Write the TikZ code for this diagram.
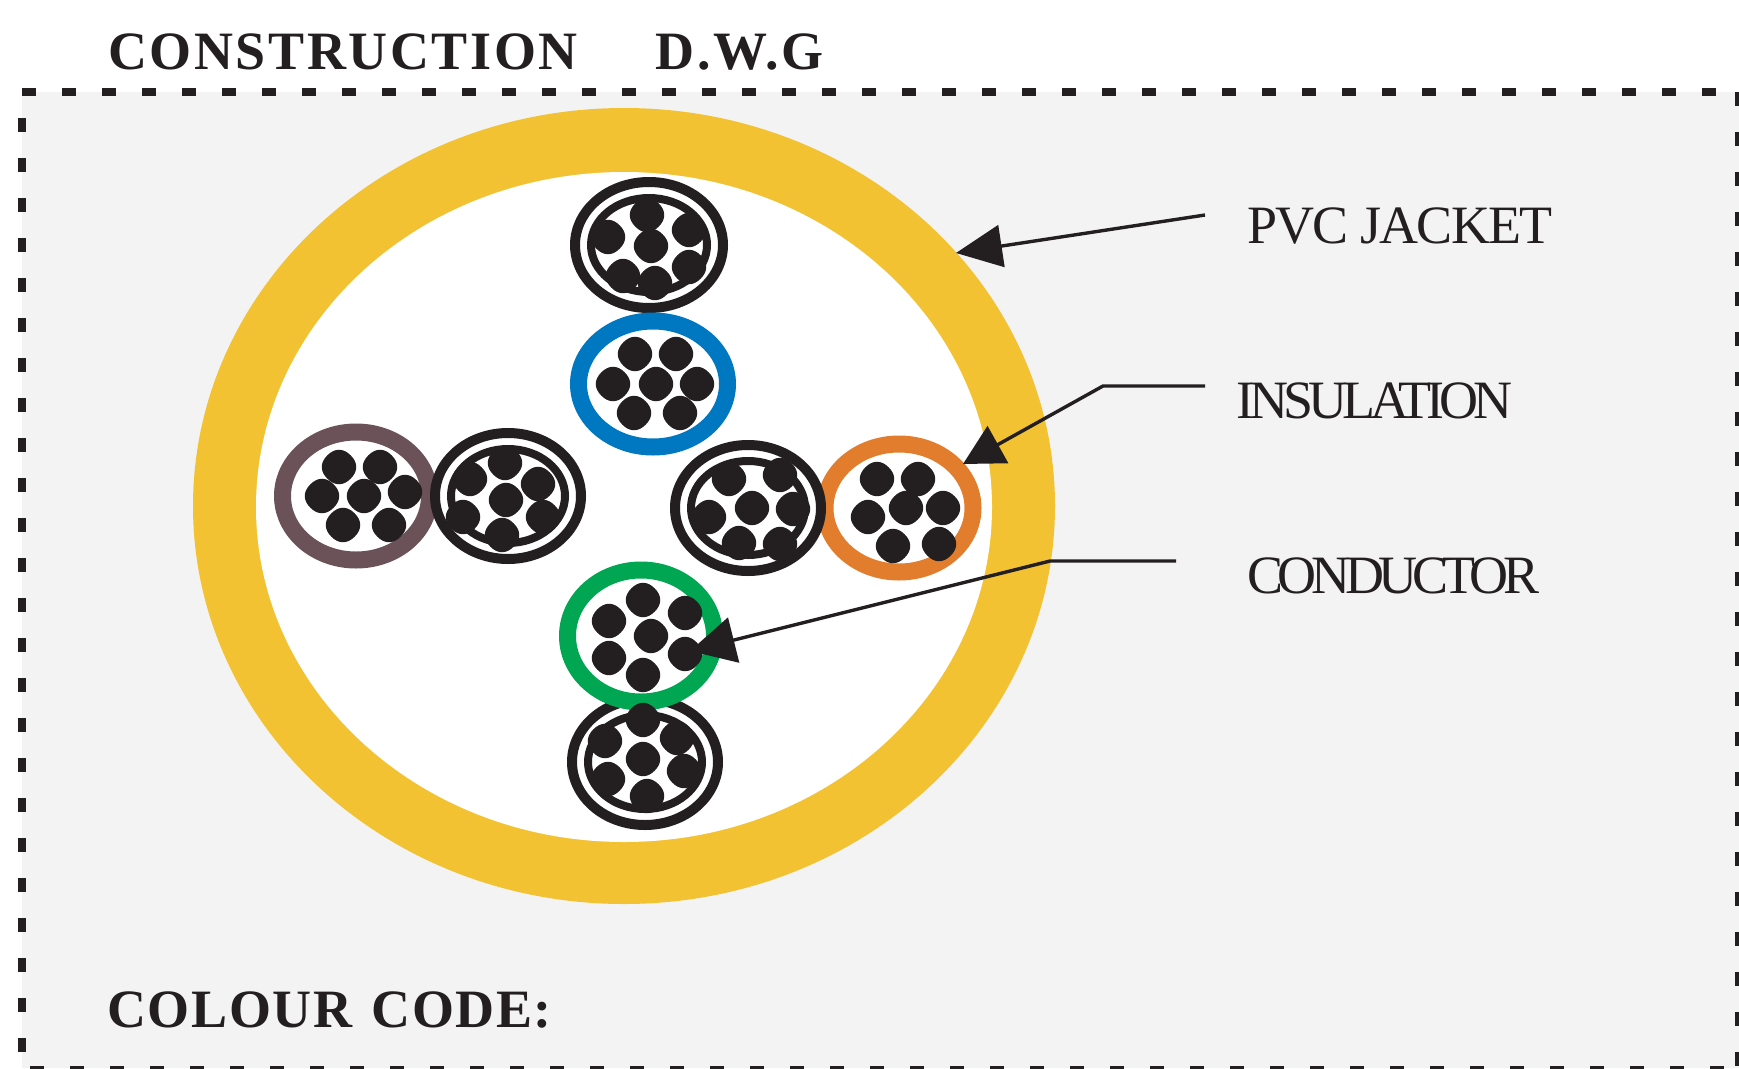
\documentclass[tikz,border=0pt]{standalone}
\usepackage{fontspec}
\usetikzlibrary{arrows.meta}
\setmainfont{Liberation Serif}
\newfontfamily\headfont{Liberation Serif}[LetterSpace=4.8]
\newfontfamily\codefont{Liberation Serif}[LetterSpace=3]
\newfontfamily\jacketfont{Liberation Serif}[LetterSpace=-3.3]
\newfontfamily\insulfont{Liberation Serif}[LetterSpace=-9.3]
\newfontfamily\condfont{Liberation Serif}[LetterSpace=-10]
\definecolor{ink}{HTML}{231F20}
\definecolor{panel}{HTML}{F3F3F3}
\definecolor{jacket}{HTML}{F2C233}
\definecolor{coreblue}{HTML}{0078C1}
\definecolor{corepurple}{HTML}{6B5259}
\definecolor{coreorange}{HTML}{E27D2D}
\definecolor{coregreen}{HTML}{00A651}
\tikzset{
  heading/.style={anchor=base west,inner sep=0pt,text=ink,font=\fontsize{54}{60}\selectfont\bfseries},
  tag/.style={anchor=base west,inner sep=0pt,text=ink,font=\fontsize{54}{60}\selectfont},
  border/.style={draw=ink,line width=8pt,dash pattern=on 14pt off 26pt},
  leader/.style={draw=ink,line width=3.4pt},
  colourring/.style={line width=17pt},
  blackring/.style={draw=ink,fill=white},
}
\newcommand{\strand}[2]{\fill[ink,shift={(#1,#2)},rotate=45] (16.5,0) .. controls (16.5,10.5) and (10.5,16.5) .. (0,16.5) .. controls (-10.5,16.5) and (-16.5,10.5) .. (-16.5,0) .. controls (-16.5,-10.5) and (-10.5,-16.5) .. (0,-16.5) .. controls (10.5,-16.5) and (16.5,-10.5) .. (16.5,0) -- cycle;}
\newcommand{\colourcore}[5]{\draw[colourring,draw=#1,fill=white] (#2,#3) ellipse [x radius=#4,y radius=#5];}
\newcommand{\blackcore}[4]{%
  \draw[blackring,line width=10pt] (#1,#2) ellipse [x radius=#3-5,y radius=#4-5];
  \draw[blackring,line width=8pt] (#1,#2) ellipse [x radius=#3-21,y radius=#4-21];}
\begin{document}
\begin{tikzpicture}[x=1pt,y=-1pt]
\useasboundingbox (0,0) rectangle (1739,1068);
\fill[white] (0,0) rectangle (1739,1068);
\fill[panel] (22,92) rectangle (1739,1068);
% dashed frame
\path[border] (22,92) -- (1739,92);
\path[border] (22,118) -- (22,1068);
\path[border] (1739,92) -- (1739,1068);
\path[border,line width=3pt] (30,1067.5) -- (1739,1067.5);
% heading
\node[heading] (title) at (108,69) {\headfont CONSTRUCTION\hspace{78pt}D.W.G};
\node[heading] (code) at (107,1027) {\codefont COLOUR\hspace{4pt} CODE:};
% jacket
\fill[jacket] (624,506) ellipse [x radius=431,y radius=398];
\fill[white] (624,507) ellipse [x radius=368,y radius=335];
% top black core
\blackcore{649}{245}{79}{68}
\foreach \a/\b in {440/195,325/262,568/240,453/288,370/378,465/400,568/350}
  {\strand{\the\numexpr500+\a/3\relax}{\the\numexpr150+\b/3\relax}}
% blue core
\colourcore{coreblue}{653}{384}{74.5}{63}
\foreach \a/\b in {405/612,528/612,340/702,467/702,592/702,403/788,540/788}
  {\strand{\the\numexpr500+\a/3\relax}{\the\numexpr150+\b/3\relax}}
% purple core
\colourcore{corepurple}{356}{496}{73.5}{64}
\foreach \a/\b in {236/170,360/170,186/258,312/258,436/245,248/346,386/346}
  {\strand{\the\numexpr260+\a/3\relax}{\the\numexpr410+\b/3\relax}}
% left black core
\blackcore{508}{496}{78}{68}
\foreach \a/\b in {735/158,630/208,835/222,737/270,610/322,850/322,725/375}
  {\strand{\the\numexpr260+\a/3\relax}{\the\numexpr410+\b/3\relax}}
% orange core
\colourcore{coreorange}{899}{508}{74}{64}
% right black core
\blackcore{748}{508}{78}{68}
\foreach \a/\b in {208/178,360/165,148/290,275/265,400/268,237/370,360/372,650/178,773/178,623/292,737/265,848/265,698/378,838/372}
  {\strand{\the\numexpr660+\a/3\relax}{\the\numexpr420+\b/3\relax}}
% bottom black core
\blackcore{645}{762}{78}{68}
% green core
\colourcore{coregreen}{641}{636}{73.5}{66}
\foreach \a/\b in {308/150,434/188,208/212,332/258,208/325,434/312,308/375,308/510,195/572,410/565,308/628,205/688,432/662,320/738}
  {\strand{\the\numexpr540+\a/3\relax}{\the\numexpr550+\b/3\relax}}
% labels
\node[tag] (pvc) at (1247,243) {\jacketfont PVC JACKET};
\node[tag] (ins) at (1236,418) {\insulfont INSULATION};
\node[tag] (con) at (1247,593) {\condfont CONDUCTOR};
% leaders
\coordinate (pvcstart) at (1205,215);
\coordinate (pvctip) at (956,253);
\coordinate (insstart) at (1205,386);
\coordinate (insbend) at (1103,386);
\coordinate (instip) at (963,464);
\coordinate (constart) at (1176,561);
\coordinate (conbend) at (1050,561);
\coordinate (contip) at (690,651);
\draw[leader,-{Triangle[length=46pt,width=42pt]}] (pvcstart) -- (pvctip);
\draw[leader,-{Triangle[length=40pt,width=42pt]}] (insstart) -- (insbend) -- (instip);
\draw[leader,-{Triangle[length=45pt,width=46pt]}] (constart) -- (conbend) -- (contip);
\end{tikzpicture}
\end{document}
